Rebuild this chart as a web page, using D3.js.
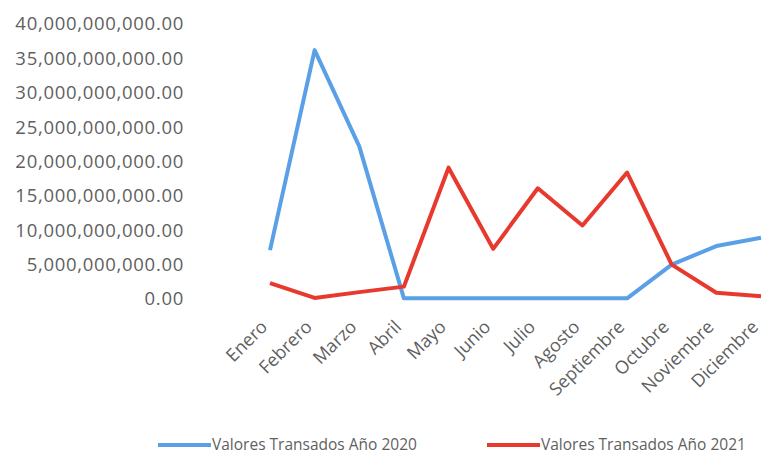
<!DOCTYPE html>
<html>
<head>
<meta charset="utf-8">
<script src="https://cdn.jsdelivr.net/npm/d3@7"></script>
<style>
  body { margin: 0; background: #fff; }
  svg { display: block; font-family: "Open Sans", "Noto Sans", sans-serif; }
</style>
</head>
<body>
<div id="chart"></div>
<script>
// months and values
var months = ["Enero", "Febrero", "Marzo", "Abril", "Mayo", "Junio", "Julio",
              "Agosto", "Septiembre", "Octubre", "Noviembre", "Diciembre"];
var valores2020 = [7.1e9, 36.2e9, 22.2e9, 0.1e9, 0.1e9, 0.1e9, 0.1e9,
                   0.1e9, 0.1e9, 5.0e9, 7.7e9, 8.9e9];
var valores2021 = [2.3e9, 0.15e9, 1.0e9, 1.8e9, 19.1e9, 7.3e9, 16.1e9,
                   10.7e9, 18.4e9, 5.0e9, 0.9e9, 0.4e9];
var yTicks = [0, 5e9, 10e9, 15e9, 20e9, 25e9, 30e9, 35e9, 40e9];
var seriesNames = ["Valores Transados Año 2020", "Valores Transados Año 2021"];
var colors = ["#5aa0e6", "#e8392e"];

var W = 762, H = 455;
var svg = d3.select("#chart").append("svg")
    .attr("width", W)
    .attr("height", H);

var x = d3.scalePoint()
    .domain(months)
    .range([270, 761]);

var y = d3.scaleLinear()
    .domain([0, 40e9])
    .range([299, 24]);

// y axis labels
var fmt = d3.format(",.2f");
var yAxis = svg.append("g")
    .attr("transform", "translate(184,0)")
    .call(d3.axisLeft(y).tickValues(yTicks).tickFormat(fmt).tickSize(0).tickPadding(0));
yAxis.select(".domain").remove();
yAxis.selectAll("text")
    .style("font-size", "18.5px")
    .style("letter-spacing", "0.7px")
    .style("font-family", "'Open Sans', sans-serif")
    .style("fill", "#5f5f5f");

// x axis labels, rotated
var xAxis = svg.append("g")
    .attr("transform", "translate(0,305)")
    .call(d3.axisBottom(x).tickSize(0).tickPadding(0));
xAxis.select(".domain").remove();
xAxis.selectAll("text")
    .style("font-size", "18px")
    .style("font-family", "'Open Sans', sans-serif")
    .style("fill", "#5f5f5f")
    .style("text-anchor", "end")
    .attr("dy", "0")
    .attr("transform", "translate(-2,23) rotate(-45)");

var line = d3.line()
    .x(function(d, i) { return x(months[i]); })
    .y(function(d) { return y(d); });

[valores2020, valores2021].forEach(function(vals, k) {
  svg.append("path")
    .datum(vals)
    .attr("d", line)
    .attr("fill", "none")
    .attr("stroke", colors[k])
    .attr("stroke-width", 4)
    .attr("stroke-linejoin", "round");
});

// legend
var legendX = [158, 487];
seriesNames.forEach(function(name, k) {
  svg.append("line")
    .attr("x1", legendX[k]).attr("x2", legendX[k] + 53)
    .attr("y1", 445).attr("y2", 445)
    .attr("stroke", colors[k])
    .attr("stroke-width", 4);
  svg.append("text")
    .attr("x", legendX[k] + 54)
    .attr("y", 445)
    .attr("dy", "0.35em")
    .style("font-size", "15.5px")
    .style("fill", "#5f5f5f")
    .text(name);
});
</script>
</body>
</html>
